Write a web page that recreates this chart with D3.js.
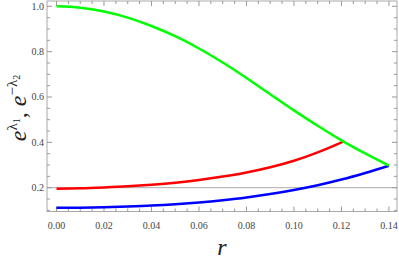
<!DOCTYPE html>
<html>
<head>
<meta charset="utf-8">
<script src="https://cdn.jsdelivr.net/npm/d3@7"></script>
<style>
  body { margin: 0; background: #fff; }
  svg text { font-family: "Times New Roman", "Liberation Serif", Tinos, "DejaVu Serif", serif; }
</style>
</head>
<body>
<div id="chart"></div>
<script>
// Data
var rValues = [0, 0.01, 0.02, 0.03, 0.04, 0.05, 0.06, 0.07, 0.08, 0.09, 0.10, 0.11, 0.12, 0.13, 0.14];
var greenValues = [1.0, 0.994, 0.977, 0.950, 0.913, 0.868, 0.814, 0.752, 0.684, 0.612, 0.541, 0.473, 0.409, 0.351, 0.297];
var redR = [0, 0.01, 0.02, 0.03, 0.04, 0.05, 0.06, 0.07, 0.08, 0.09, 0.10, 0.11, 0.12, 0.1208];
var redValues = [0.195, 0.197, 0.201, 0.206, 0.213, 0.222, 0.234, 0.249, 0.267, 0.290, 0.319, 0.356, 0.400, 0.404];
var blueValues = [0.111, 0.112, 0.114, 0.117, 0.121, 0.127, 0.135, 0.145, 0.157, 0.172, 0.190, 0.211, 0.236, 0.265, 0.297];

var xTicks = [0, 0.02, 0.04, 0.06, 0.08, 0.10, 0.12, 0.14];
var yTicks = [0.2, 0.4, 0.6, 0.8, 1.0];

var svgWidth = 399;
var svgHeight = 262;

// Plot frame in pixels
var frame = { left: 47, right: 397, top: 1, bottom: 211.5 };

var svg = d3.select("#chart")
  .append("svg")
  .attr("width", svgWidth)
  .attr("height", svgHeight);

var xScale = d3.scaleLinear()
  .domain([-0.004, 0.1434])
  .range([frame.left, frame.right]);

var yScale = d3.scaleLinear()
  .domain([0.095, 1.0234])
  .range([frame.bottom, frame.top]);

// minor ticks
var xMinor = d3.range(0, 0.1431, 0.005);
var yMinor = d3.range(0.1, 1.001, 0.05);

var tickColor = "#999";

// gridline at 0.2
svg.append("line")
  .attr("x1", frame.left).attr("x2", frame.right)
  .attr("y1", yScale(0.2)).attr("y2", yScale(0.2))
  .attr("stroke", "#aaa")
  .attr("stroke-width", 1);

// frame
svg.append("rect")
  .attr("x", frame.left)
  .attr("y", frame.top)
  .attr("width", frame.right - frame.left)
  .attr("height", frame.bottom - frame.top)
  .attr("fill", "none")
  .attr("stroke", "#aaa")
  .attr("stroke-width", 1);

// inward ticks on all sides
var tickGroup = svg.append("g").attr("stroke", tickColor).attr("stroke-width", 1);

function isMajor(v, step) {
  return Math.abs(v / step - Math.round(v / step)) < 1e-6;
}

xMinor.forEach(function(v) {
  var len = isMajor(v, 0.02) ? 5 : 3;
  var x = xScale(v);
  tickGroup.append("line").attr("x1", x).attr("x2", x)
    .attr("y1", frame.bottom).attr("y2", frame.bottom - len);
  tickGroup.append("line").attr("x1", x).attr("x2", x)
    .attr("y1", frame.top).attr("y2", frame.top + len);
});

yMinor.forEach(function(v) {
  var len = isMajor(v, 0.2) ? 5 : 3;
  var y = yScale(v);
  tickGroup.append("line").attr("x1", frame.left).attr("x2", frame.left + len)
    .attr("y1", y).attr("y2", y);
  tickGroup.append("line").attr("x1", frame.right).attr("x2", frame.right - len)
    .attr("y1", y).attr("y2", y);
});

// tick labels
svg.append("g").selectAll("text")
  .data(xTicks)
  .enter()
  .append("text")
  .attr("x", d => xScale(d))
  .attr("y", 229)
  .attr("text-anchor", "middle")
  .style("font-size", "10px")
  .attr("fill", "#444")
  .text(d => d3.format(".2f")(d));

svg.append("g").selectAll("text")
  .data(yTicks)
  .enter()
  .append("text")
  .attr("x", 44)
  .attr("y", d => yScale(d) + 3.5)
  .attr("text-anchor", "end")
  .style("font-size", "10px")
  .attr("fill", "#444")
  .text(d => d3.format(".1f")(d));

// curves
var line = d3.line()
  .x(d => xScale(d[0]))
  .y(d => yScale(d[1]))
  .curve(d3.curveMonotoneX);

svg.append("path")
  .datum(rValues.map((r, i) => [r, blueValues[i]]))
  .attr("d", line)
  .attr("fill", "none")
  .attr("stroke", "#0000ff")
  .attr("stroke-width", 2.5);

svg.append("path")
  .datum(redR.map((r, i) => [r, redValues[i]]))
  .attr("d", line)
  .attr("fill", "none")
  .attr("stroke", "#ff0000")
  .attr("stroke-width", 2.5);

svg.append("path")
  .datum(rValues.map((r, i) => [r, greenValues[i]]))
  .attr("d", line)
  .attr("fill", "none")
  .attr("stroke", "#00ff00")
  .attr("stroke-width", 2.5);

// x-axis label
svg.append("text")
  .attr("x", 222)
  .attr("y", 255)
  .attr("text-anchor", "middle")
  .style("font-size", "24px")
  .style("font-style", "italic")
  .attr("fill", "#222")
  .text("r");

// y-axis label
var yLabel = svg.append("text")
  .attr("transform", "translate(26, 108) rotate(-90)")
  .attr("text-anchor", "middle")
  .attr("fill", "#222")
  .style("font-size", "24px");

yLabel.append("tspan").style("font-style", "italic").text("e");
yLabel.append("tspan").style("font-size", "15px").attr("dy", -9).text("λ");
yLabel.append("tspan").style("font-size", "10px").attr("dy", 3).text("1");
yLabel.append("tspan").attr("dy", 6).text(", ");
yLabel.append("tspan").style("font-style", "italic").text("e");
yLabel.append("tspan").style("font-size", "15px").attr("dy", -9).text("−λ");
yLabel.append("tspan").style("font-size", "10px").attr("dy", 3).text("2");
</script>
</body>
</html>
